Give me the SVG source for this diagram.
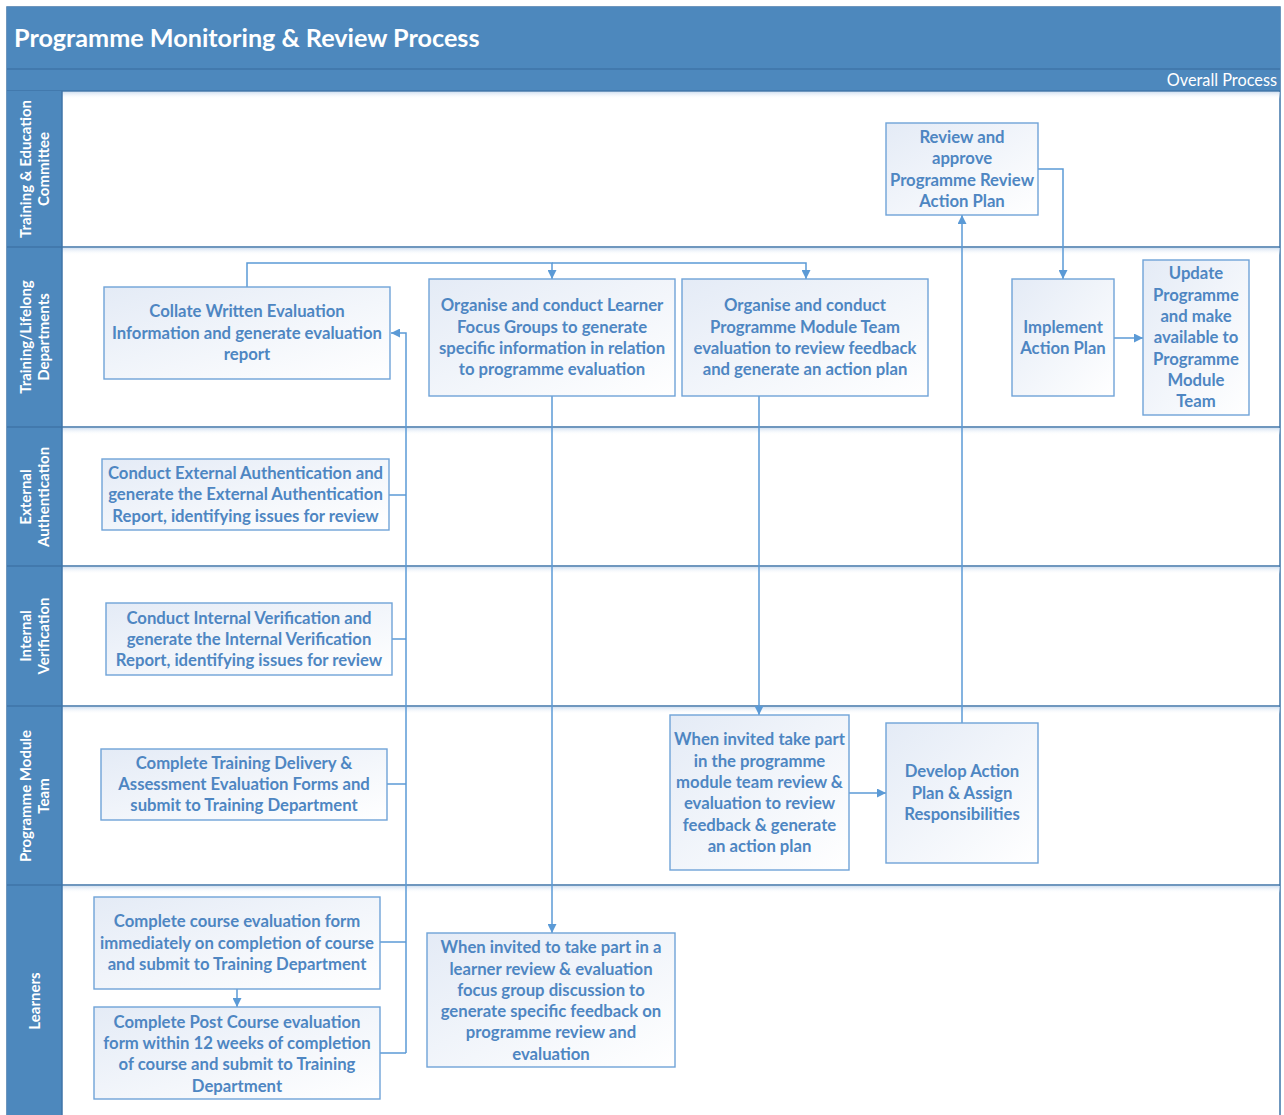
<svg xmlns="http://www.w3.org/2000/svg" width="1284" height="1115" viewBox="0 0 1284 1115">
<defs>
<linearGradient id="boxg" x1="0" y1="0" x2="1" y2="1">
<stop offset="0" stop-color="#E4EBF6"/>
<stop offset="1" stop-color="#FFFFFF"/>
</linearGradient>
<linearGradient id="shad" x1="0" y1="0" x2="0" y2="1">
<stop offset="0" stop-color="#C9DAEE" stop-opacity="0.8"/>
<stop offset="1" stop-color="#FFFFFF" stop-opacity="0"/>
</linearGradient>
<marker id="ah" viewBox="0 0 10 10" refX="10" refY="5" markerWidth="10" markerHeight="9" orient="auto" markerUnits="userSpaceOnUse">
<path d="M0,0 L10,5 L0,10 z" fill="#5B9AD6"/>
</marker>
<style>
.band{fill:#4D88BD}
.lane{fill:#4D88BD}
.sep{stroke:#3F74A8;stroke-width:1.5;fill:none}
.box{fill:url(#boxg);stroke:#6FA3D8;stroke-width:1.4}
.bt{font-family:Lato,"Liberation Sans",sans-serif;font-weight:bold;font-size:16.7px;fill:#4E86C2;text-anchor:middle}
.lt{font-family:Lato,"Liberation Sans",sans-serif;font-weight:bold;font-size:15px;fill:#FFFFFF;text-anchor:middle}
.con{fill:none;stroke:#5B9AD6;stroke-width:1.5}
.arr{marker-end:url(#ah)}
</style>
</defs>
<rect x="0" y="0" width="1284" height="1115" fill="#FFFFFF"/>
<g id="frame">
<rect x="7" y="7" width="1273" height="1110" fill="#FFFFFF" stroke="#3F74A8" stroke-width="1.5"/>
<rect class="band" x="7" y="7" width="1273" height="62"/>
<rect class="band" x="7" y="69" width="1273" height="22"/>
<line class="sep" x1="7" y1="69" x2="1280" y2="69"/>
<line class="sep" x1="7" y1="91" x2="1280" y2="91"/>
<text x="14" y="47" font-family="Lato,'Liberation Sans',sans-serif" font-weight="bold" font-size="25.2px" fill="#FFFFFF">Programme Monitoring &amp; Review Process</text>
<text x="1277" y="86" font-family="Lato,'Liberation Sans',sans-serif" font-size="16.3px" fill="#FFFFFF" text-anchor="end">Overall Process</text>
</g>
<g id="lanes">
<rect x="62" y="92" width="1218" height="7" fill="url(#shad)"/>
<rect x="62" y="248" width="1218" height="7" fill="url(#shad)"/>
<rect x="62" y="428" width="1218" height="7" fill="url(#shad)"/>
<rect x="62" y="567" width="1218" height="7" fill="url(#shad)"/>
<rect x="62" y="707" width="1218" height="7" fill="url(#shad)"/>
<rect x="62" y="886" width="1218" height="7" fill="url(#shad)"/>
<rect class="lane" x="7" y="91" width="55" height="1026"/>
<line class="sep" x1="62" y1="91" x2="62" y2="1117"/>
<line class="sep" x1="7" y1="247" x2="1280" y2="247"/>
<line class="sep" x1="7" y1="427" x2="1280" y2="427"/>
<line class="sep" x1="7" y1="566" x2="1280" y2="566"/>
<line class="sep" x1="7" y1="706" x2="1280" y2="706"/>
<line class="sep" x1="7" y1="885" x2="1280" y2="885"/>
<g id="lane-tec" transform="translate(0,169) rotate(-90)"><text class="lt" x="0" y="31">Training &amp; Education</text><text class="lt" x="0" y="49">Committee</text></g>
<g id="lane-tld" transform="translate(0,337) rotate(-90)"><text class="lt" x="0" y="31">Training/Lifelong</text><text class="lt" x="0" y="49">Departments</text></g>
<g id="lane-ea" transform="translate(0,497) rotate(-90)"><text class="lt" x="0" y="31">External</text><text class="lt" x="0" y="49">Authentication</text></g>
<g id="lane-iv" transform="translate(0,636) rotate(-90)"><text class="lt" x="0" y="31">Internal</text><text class="lt" x="0" y="49">Verification</text></g>
<g id="lane-pmt" transform="translate(0,796) rotate(-90)"><text class="lt" x="0" y="31">Programme Module</text><text class="lt" x="0" y="49">Team</text></g>
<g id="lane-l" transform="translate(0,1001) rotate(-90)"><text class="lt" x="0" y="40">Learners</text></g>
</g>
<g id="connectors">
<path class="con arr" d="M247,287 V263 H552 V279"/>
<path class="con arr" d="M552,263 H806 V279"/>
<path class="con arr" d="M406,1053 V333 H391"/>
<path class="con" d="M389,495 H406"/>
<path class="con" d="M392,639 H406"/>
<path class="con" d="M387,784 H406"/>
<path class="con" d="M380,942 H406"/>
<path class="con" d="M380,1053 H406"/>
<path class="con arr" d="M552,396 V933"/>
<path class="con arr" d="M759,396 V715"/>
<path class="con arr" d="M849,793 H886"/>
<path class="con arr" d="M962,723 V215"/>
<path class="con arr" d="M1038,169 H1063 V279"/>
<path class="con arr" d="M1114,338 H1143"/>
<path class="con arr" d="M237,989 V1007"/>
</g>
<g id="n-review"><rect class="box" x="886" y="123" width="152" height="92"/><text class="bt"><tspan x="962" y="143">Review and</tspan><tspan x="962" y="164">approve</tspan><tspan x="962" y="186">Programme Review</tspan><tspan x="962" y="207">Action Plan</tspan></text></g>
<g id="n-collate"><rect class="box" x="104" y="287" width="286" height="92"/><text class="bt"><tspan x="247" y="317">Collate Written Evaluation</tspan><tspan x="247" y="339">Information and generate evaluation</tspan><tspan x="247" y="360">report</tspan></text></g>
<g id="n-focus"><rect class="box" x="429" y="279" width="246" height="117"/><text class="bt"><tspan x="552" y="311">Organise and conduct Learner</tspan><tspan x="552" y="333">Focus Groups to generate</tspan><tspan x="552" y="354">specific information in relation</tspan><tspan x="552" y="375">to programme evaluation</tspan></text></g>
<g id="n-pmteval"><rect class="box" x="682" y="279" width="246" height="117"/><text class="bt"><tspan x="805" y="311">Organise and conduct</tspan><tspan x="805" y="333">Programme Module Team</tspan><tspan x="805" y="354">evaluation to review feedback</tspan><tspan x="805" y="375">and generate an action plan</tspan></text></g>
<g id="n-implement"><rect class="box" x="1012" y="279" width="102" height="117"/><text class="bt"><tspan x="1063" y="333">Implement</tspan><tspan x="1063" y="354">Action Plan</tspan></text></g>
<g id="n-update"><rect class="box" x="1143" y="260" width="106" height="155"/><text class="bt"><tspan x="1196" y="279">Update</tspan><tspan x="1196" y="301">Programme</tspan><tspan x="1196" y="322">and make</tspan><tspan x="1196" y="343">available to</tspan><tspan x="1196" y="365">Programme</tspan><tspan x="1196" y="386">Module</tspan><tspan x="1196" y="407">Team</tspan></text></g>
<g id="n-extauth"><rect class="box" x="102" y="459" width="287" height="71"/><text class="bt"><tspan x="245.5" y="479">Conduct External Authentication and</tspan><tspan x="245.5" y="500">generate the External Authentication</tspan><tspan x="245.5" y="522">Report, identifying issues for review</tspan></text></g>
<g id="n-intver"><rect class="box" x="106" y="603" width="286" height="72"/><text class="bt"><tspan x="249" y="624">Conduct Internal Verification and</tspan><tspan x="249" y="645">generate the Internal Verification</tspan><tspan x="249" y="666">Report, identifying issues for review</tspan></text></g>
<g id="n-training"><rect class="box" x="101" y="749" width="286" height="71"/><text class="bt"><tspan x="244" y="769">Complete Training Delivery &amp;</tspan><tspan x="244" y="790">Assessment Evaluation Forms and</tspan><tspan x="244" y="811">submit to Training Department</tspan></text></g>
<g id="n-invited"><rect class="box" x="670" y="715" width="179" height="155"/><text class="bt"><tspan x="759.5" y="745">When invited take part</tspan><tspan x="759.5" y="767">in the programme</tspan><tspan x="759.5" y="788">module team review &amp;</tspan><tspan x="759.5" y="809">evaluation to review</tspan><tspan x="759.5" y="831">feedback &amp; generate</tspan><tspan x="759.5" y="852">an action plan</tspan></text></g>
<g id="n-develop"><rect class="box" x="886" y="723" width="152" height="140"/><text class="bt"><tspan x="962" y="777">Develop Action</tspan><tspan x="962" y="799">Plan &amp; Assign</tspan><tspan x="962" y="820">Responsibilities</tspan></text></g>
<g id="n-course"><rect class="box" x="94" y="897" width="286" height="92"/><text class="bt"><tspan x="237" y="927">Complete course evaluation form</tspan><tspan x="237" y="949">immediately on completion of course</tspan><tspan x="237" y="970">and submit to Training Department</tspan></text></g>
<g id="n-post"><rect class="box" x="94" y="1007" width="286" height="92"/><text class="bt"><tspan x="237" y="1028">Complete Post Course evaluation</tspan><tspan x="237" y="1049">form within 12 weeks of completion</tspan><tspan x="237" y="1070">of course and submit to Training</tspan><tspan x="237" y="1092">Department</tspan></text></g>
<g id="n-learnerfocus"><rect class="box" x="427" y="933" width="248" height="134"/><text class="bt"><tspan x="551" y="953">When invited to take part in a</tspan><tspan x="551" y="975">learner review &amp; evaluation</tspan><tspan x="551" y="996">focus group discussion to</tspan><tspan x="551" y="1017">generate specific feedback on</tspan><tspan x="551" y="1038">programme review and</tspan><tspan x="551" y="1060">evaluation</tspan></text></g>
</svg>
